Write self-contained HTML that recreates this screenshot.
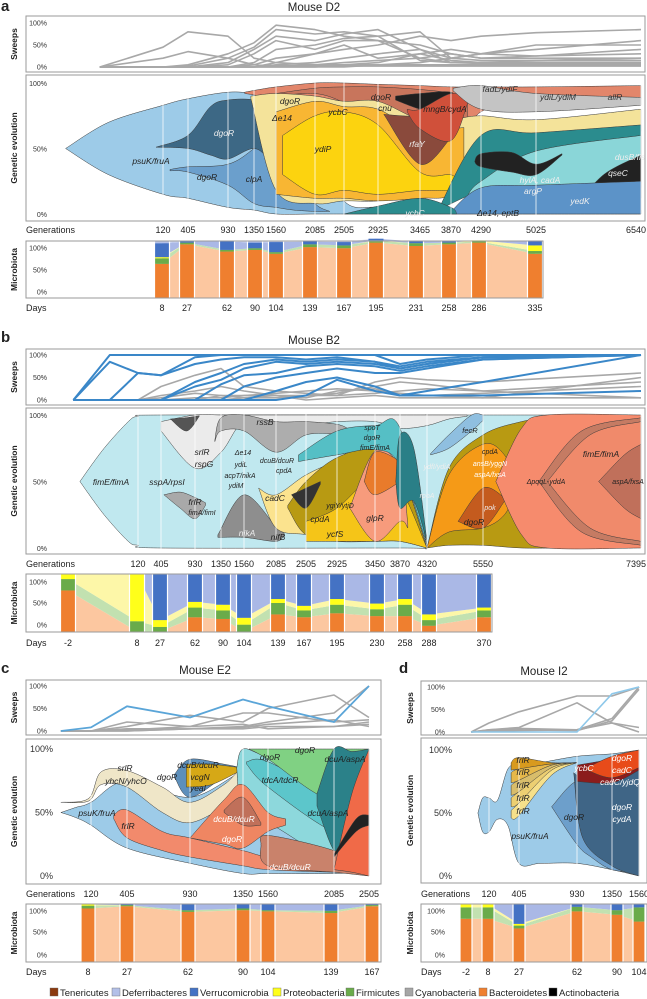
<!DOCTYPE html>
<html><head><meta charset="utf-8">
<style>
html,body{margin:0;padding:0;background:#fff;}
svg{display:block;font-family:"Liberation Sans",Arial,sans-serif;}
</style></head>
<body>
<svg id="fig" width="647" height="999" viewBox="0 0 647 999" xmlns="http://www.w3.org/2000/svg"></svg>
<script>
// ---------------- DATA ----------------
const aGenTicks=[120,405,930,1350,1560,2085,2505,2925,3465,3870,4290,5025,6540];
const aDays=[8,27,62,90,104,139,167,195,231,258,286,335];
const aBact=[60,95,82,85,78,90,88,98,92,95,98,78];
const aFirm=[10,3,3,3,3,5,5,3,5,3,2,5];
const aProt=[2,0,0,0,0,0,0,1,0,0,2,10];
const aVerr=[25,2,15,10,18,5,6,3,3,2,0,7];
const aSweepT=[-600,120,405,930,1350,1560,2085,2505,2925,3465,3870,4290,5025,6540];
const aSw1=[0,45,80,70,20,10,5,5,5,5,5,5,5,5];
const aSw2=[0,20,35,20,5,3,2,2,2,2,2,2,2,2];
const aSw3=[0,0,5,30,55,95,85,70,60,20,10,10,10,10];
const aSw4=[0,0,2,20,45,85,75,80,70,15,10,8,8,8];
const aSw5=[0,0,0,10,40,70,60,75,85,40,10,10,10,10];
const aSw6=[0,0,0,5,30,60,40,60,60,50,30,20,20,20];
const aSw7=[0,0,0,0,10,40,50,65,70,80,20,15,15,15];
const aSw8=[0,0,0,0,5,20,30,40,50,70,60,70,78,85];
const aSw9=[0,0,0,0,0,10,30,50,20,30,40,30,50,50];
const aSw10=[0,0,0,0,0,5,10,20,30,40,20,30,40,60];
const aSw11=[0,0,0,0,0,2,5,10,15,20,30,20,25,30];
const aSw12=[0,0,0,0,0,0,0,5,10,30,15,10,15,20];
const aSw13=[0,0,0,0,0,0,0,0,5,10,20,30,25,40];
const aPsuK_t=[-990,-500,120,405,930,1350,1560,2085,2505,2925,3465,3870,4290,5025,6540];
const aPsuK_lo=[50,30,15,12,5,3,0,0,0,0,0,0,0,0,0];
const aPsuK_hi=[50,70,83,88,93,92,90,55,10,5,3,3,3,3,3];
const aClpA_t=[200,405,930,1350,1560,1800,2085,2300];
const aClpA_lo=[33,32,22,8,5,3,2,2];
const aClpA_hi=[34,36,38,50,65,30,8,2];
const aDgoR_t=[40,405,700,930,1350,1500,1600,1700];
const aDgoR_lo=[51,50,45,42,50,40,25,20];
const aDgoR_hi=[51,60,82,87,87,80,45,22];
const aTop_t=[1200,1400,1560,2085,2505,2925,3465,3870,4290,5025,6540];
const aTop_lo=[92,90,85,88,86,84,60,45,78,84,88];
const aTop_hi=[93,95,97,100,100,99,98,97,97,97,98];
const aBrown_t=[1560,2085,2505,2925,3465,3870,4100];
const aBrown_lo=[90,92,85,70,30,40,70];
const aBrown_hi=[92,96,97,97,95,92,85];
const aPale_t=[1300,1560,2085,2505,2925,3465,3870,4290,5025,6540];
const aPale_lo=[88,18,8,10,10,15,20,45,55,63];
const aPale_hi=[90,92,90,86,86,72,72,75,72,80];
const aOrY_t=[1560,2085,2505,2925,3465,3870,4050];
const aOrY_lo=[15,12,12,10,12,15,40];
const aOrY_hi=[78,86,82,80,62,65,66];
const aYel_t=[1650,2085,2505,2925,3465,3870,3950];
const aYel_lo=[30,15,18,15,18,18,22];
const aYel_hi=[60,75,78,68,32,30,24];
const aRfa_t=[3000,3465,3870,3950];
const aRfa_lo=[76,38,58,62];
const aRfa_hi=[76,75,82,64];
const aBlk_t=[3150,3465,3870,4000];
const aBlk_lo=[87,80,74,82];
const aBlk_hi=[90,92,93,85];
const aRed_t=[3300,3465,3870,4100];
const aRed_lo=[78,65,56,84];
const aRed_hi=[80,80,92,87];
const aGray_t=[3900,4290,5025,6540];
const aGray_lo=[94,80,78,83];
const aGray_hi=[96,98,92,89];
const aTeal_t=[3700,4290,5025,6540];
const aTeal_lo=[3,18,30,45];
const aTeal_hi=[3,60,62,68];
const aCyan_t=[4100,4290,5025,6540];
const aCyan_lo=[12,12,18,20];
const aCyan_hi=[14,25,48,60];
const aBlk2_t=[4200,4290,4700,5025,5400];
const aBlk2_lo=[40,36,32,30,45];
const aBlk2_hi=[40,46,47,38,46];
const aBlk3_t=[5600,6000,6540];
const aBlk3_lo=[5,8,12];
const aBlk3_hi=[6,30,45];
const aBlue_t=[3870,4290,5025,6540];
const aBlue_lo=[0,0,0,0];
const aBlue_hi=[2,20,22,25];
const aYcbC_t=[2505,2925,3465,3870,3950];
const aYcbC_lo=[0,0,0,0,0];
const aYcbC_hi=[0,6,12,5,0];

const bGenTicks=[120,405,930,1350,1560,2085,2505,2925,3450,3870,4320,5550,7395];
const bDays=[-2,8,27,62,90,104,139,167,195,230,258,288,370];
const bBact=[72,0,0,25,22,0,30,25,32,27,27,10,25];
const bFirm=[20,18,8,17,15,12,20,12,15,12,20,10,12];
const bProt=[8,82,12,10,10,12,7,8,10,10,10,10,5];
const bVerr=[0,0,80,48,53,76,43,55,43,51,43,70,58];
const bSweepT=[-680,-230,120,405,930,1350,1560,2085,2505,2925,3450,3870,4320,5550,7395];
const bB1=[0,100,100,100,100,100,100,100,100,100,100,100,100,100,100];
const bB2=[0,85,60,55,95,100,100,100,100,100,100,80,90,100,100];
const bB3=[0,0,60,55,80,90,95,95,90,95,85,75,85,95,100];
const bB4=[0,0,0,0,40,60,80,90,85,90,85,70,80,95,100];
const bB5=[0,0,0,0,30,45,70,85,80,85,80,70,80,95,100];
const bB6=[0,0,0,0,0,35,55,60,75,80,75,65,75,90,100];
const bB7=[0,0,0,0,0,0,30,50,60,70,60,60,70,90,100];
const bB8=[0,0,0,0,0,0,0,20,40,50,30,10,20,40,100];
const bB9=[0,0,0,0,0,0,0,0,10,45,20,10,10,10,20];
const bG1=[0,0,0,30,55,70,30,20,15,10,40,50,45,40,60];
const bG2=[0,0,0,10,20,30,20,10,10,15,30,40,35,20,40];
const bG3=[0,0,0,0,0,10,10,15,20,25,20,15,10,5,5];
const bG4=[0,0,0,5,15,10,5,10,5,20,25,10,10,15,30];
const bG5=[0,0,0,0,0,0,5,5,10,10,15,20,25,20,5];
const bG6=[0,0,0,0,5,5,10,10,0,5,10,5,5,5,50];
const bCyan_t=[-600,-300,0,120,405,3870,4320,4800,5550,6300,6600];
const bCyan_lo=[50,25,5,2,0,0,0,10,50,90,100];
const bCyan_hi=[50,75,95,99,100,100,100,100,100,100,100];
const bLG_t=[405,930,1350,1560,2085,2505,2925,3450,3870,4320,4800,5200];
const bLG_lo=[88,60,72,95,90,92,95,95,90,92,97,99];
const bLG_hi=[95,100,100,100,100,100,100,100,100,100,100,100];
const bFrl_t=[450,700,930,1100];
const bFrl_lo=[40,30,22,32];
const bFrl_hi=[40,42,38,34];
const bRss_t=[1250,1350,1560,2085,2505,2925,3100];
const bRss_lo=[80,88,88,72,85,86,88];
const bRss_hi=[81,98,100,95,95,93,89];
const bNik_t=[1300,1560,2085,2200];
const bNik_lo=[8,8,5,10];
const bNik_hi=[10,40,16,11];
const bSrl_t=[550,800,1000];
const bSrl_lo=[97,88,99];
const bSrl_hi=[97,98,99.5];
const bPale_t=[1800,2085,2505,2925,3450,3870,4320];
const bPale_lo=[45,15,10,5,5,5,0];
const bPale_hi=[45,40,55,65,72,60,0];
const bOl_t=[2250,2505,2925,3450,3870,4320];
const bOl_lo=[30,10,10,8,8,0];
const bOl_hi=[32,50,68,75,60,0];
const bYel_t=[2505,2925,3450,3870,4320];
const bYel_lo=[5,5,5,5,0];
const bYel_hi=[20,30,55,45,0];
const bSal_t=[3100,3450,3870,4000];
const bSal_lo=[30,5,20,15];
const bSal_hi=[30,73,60,18];
const bOr_t=[3300,3450,3870,3950];
const bOr_lo=[50,40,50,55];
const bOr_hi=[50,72,65,57];
const bTeal_t=[2400,2925,3450,3870,4320];
const bTeal_lo=[65,70,74,62,2];
const bTeal_hi=[70,88,92,90,2];
const bDT_t=[3800,3870,4100,4320];
const bDT_lo=[50,30,35,5];
const bDT_hi=[50,85,75,5];
const bFec_t=[4400,4800,5300,5550];
const bFec_lo=[70,75,88,96];
const bFec_hi=[71,85,100,100];
const bOl2_t=[4320,4800,5550,6000,6500];
const bOl2_lo=[0,2,2,0,0];
const bOl2_hi=[0,60,85,95,100];
const bOr2_t=[4320,4800,5550,5800,5950];
const bOr2_lo=[0,12,15,25,45];
const bOr2_hi=[0,55,78,70,46];
const bDgo_t=[5000,5550,5800];
const bDgo_lo=[20,15,35];
const bDgo_hi=[20,45,38];
const bSal2_t=[5700,6000,6300,7395];
const bSal2_lo=[50,10,0,0];
const bSal2_hi=[50,90,100,100];
const bBr_t=[6200,6700,7395];
const bBr_lo=[50,12,2];
const bBr_hi=[50,88,98];
const bSal3_t=[6300,6800,7395];
const bSal3_lo=[50,15,5];
const bSal3_hi=[50,85,95];
const bAsp_t=[6900,7200,7395];
const bAsp_lo=[50,30,22];
const bAsp_hi=[50,70,78];
const bCad_t=[2300,2505,2700];
const bCad_lo=[40,30,48];
const bCad_hi=[40,45,50];

const cGenTicks=[120,405,930,1350,1560,2085,2505];
const cDays=[8,27,62,90,104,139,167];
const cBact=[93,97,87,90,88,85,97];
const cFirm=[5,2,3,3,2,4,2];
const cProt=[2,0,0,0,0,0,0];
const cVerr=[0,1,10,7,10,11,1];
const cSweepT=[-118,120,405,930,1350,1560,2085,2505];
const cSwB=[0,8,55,30,70,55,20,100];
const cSw1=[0,0,10,35,20,50,80,30];
const cSw2=[0,0,20,10,40,40,20,25];
const cSw3=[0,0,0,5,10,20,40,100];
const cSw4=[0,0,5,5,5,10,10,15];
const cSw5=[0,0,2,10,15,5,10,20];
const cSw6=[0,0,0,5,8,15,25,10];
const cBlue_t=[-118,0,120,405,930,1350,1560,2085,2505];
const cBlue_lo=[50,46,40,22,10,2,2,2,3];
const cBlue_hi=[50,54,58,75,62,82,78,55,5];
const cCr_t=[-118,100,200,405,700,930,1200,1350,1500];
const cCr_lo=[58,59,72,70,50,42,55,70,78];
const cCr_hi=[58,61,82,83,70,58,72,85,80];
const cSt_t=[800,930,1200,1350];
const cSt_lo=[78,62,78,84];
const cSt_hi=[80,92,88,85];
const cGo_t=[900,1100,1350];
const cGo_lo=[70,72,84];
const cGo_hi=[88,88,85];
const cLT_t=[1300,1350,1560,2085,2400,2505];
const cLT_lo=[85,45,42,10,5,5];
const cLT_hi=[85,100,94,82,95,100];
const cMT_t=[1380,1560,2085,2300];
const cMT_lo=[88,70,35,50];
const cMT_hi=[90,90,62,60];
const cGr_t=[1400,1560,2085,2505];
const cGr_lo=[100,92,60,95];
const cGr_hi=[100,100,100,100];
const cDT_t=[1950,2085,2300,2505];
const cDT_lo=[55,20,15,5];
const cDT_hi=[65,100,98,100];
const cSa_t=[300,405,700,930,1350,1560,2085,2505];
const cSa_lo=[45,30,20,15,8,5,3,3];
const cSa_hi=[48,52,35,30,20,15,8,6];
const cSa2_t=[930,1200,1350,1560,1700];
const cSa2_lo=[30,25,22,35,40];
const cSa2_hi=[30,60,72,50,45];
const cBr_t=[1200,1350,1500];
const cBr_lo=[50,40,40];
const cBr_hi=[52,62,42];
const cLB_t=[1500,1560,2085,2505];
const cLB_lo=[25,8,3,0];
const cLB_hi=[25,32,20,5];
const cRO_t=[2085,2300,2505];
const cRO_lo=[5,3,0];
const cRO_hi=[5,65,100];
const cBk_t=[2085,2350,2505];
const cBk_lo=[15,35,40];
const cBk_hi=[17,45,48];

const dGenTicks=[120,405,930,1350,1560];
const dDays=[-2,8,27,62,90,104];
const dBact=[75,75,58,88,82,70];
const dFirm=[20,20,5,8,8,25];
const dProt=[5,5,3,0,0,0];
const dVerr=[0,0,34,4,10,5];
const dSweepT=[-50,120,405,930,1350,1560];
const dSwB=[0,0,0,0,85,100];
const dSw1=[0,20,45,80,80,100];
const dSw2=[0,5,10,65,20,0];
const dSw3=[0,5,8,5,30,100];
const dSw4=[0,3,5,3,25,95];
const dSw5=[0,2,3,5,20,10];
const dBl_t=[15,60,120,200,300,405,600,930,1350,1560];
const dBl_lo=[50,35,35,45,40,10,10,10,5,0];
const dBl_hi=[50,62,62,60,85,88,90,95,97,100];
const dY_t=[330,405,700,930];
const dY1_lo=[46,48,80,90], dY1_hi=[52,58,85,90];
const dY2_lo=[55,58,84,90], dY2_hi=[62,67,87,90];
const dY3_lo=[64,67,86,90], dY3_hi=[72,76,88,90];
const dY4_lo=[74,76,88,90], dY4_hi=[82,85,89,90];
const dY5_lo=[84,85,89,90], dY5_hi=[90,94,90,90];
const dMid_t=[700,930,1100,1350,1560];
const dMid_lo=[55,25,15,5,3];
const dMid_hi=[55,75,55,15,5];
const dNav_t=[900,1000,1350,1560];
const dNav_lo=[82,30,8,0];
const dNav_hi=[82,78,76,86];
const dDR_t=[930,1350,1560];
const dDR_lo=[75,74,84];
const dDR_hi=[88,93,100];
const dOR_t=[1050,1350,1560];
const dOR_lo=[84,78,86];
const dOR_hi=[86,95,100];

// ---------------- RENDER ----------------
const NS='http://www.w3.org/2000/svg';
const svg=document.getElementById('fig');
function mk(tag,attrs,parent){const e=document.createElementNS(NS,tag);for(const k in attrs)e.setAttribute(k,attrs[k]);(parent||svg).appendChild(e);return e;}
function txt(s,x,y,size,opts,parent){const o=opts||{};const e=mk('text',{x:x,y:y,'font-size':size,fill:o.fill||'#222','text-anchor':o.anchor||'start'},parent);if(o.italic)e.setAttribute('font-style','italic');if(o.bold)e.setAttribute('font-weight','bold');if(o.rot)e.setAttribute('transform','rotate(-90 '+x+' '+y+')');e.textContent=s;return e;}
function piece(ts,px){return g=>{let i=0;if(g<=ts[0])i=0;else if(g>=ts[ts.length-1])i=ts.length-2;else{while(g>ts[i+1])i++;}const s=(px[i+1]-px[i])/(ts[i+1]-ts[i]);return px[i]+(g-ts[i])*s;};}
function lin(v0,p0,v1,p1){return v=>p0+(v-v0)*(p1-p0)/(v1-v0);}
function smooth(pts,start){let d=(start?'M':'L')+pts[0][0].toFixed(1)+','+pts[0][1].toFixed(1);for(let i=0;i<pts.length-1;i++){const p0=pts[Math.max(0,i-1)],p1=pts[i],p2=pts[i+1],p3=pts[Math.min(pts.length-1,i+2)];const c1=[p1[0]+(p2[0]-p0[0])/6,p1[1]+(p2[1]-p0[1])/6];const c2=[p2[0]-(p3[0]-p1[0])/6,p2[1]-(p3[1]-p1[1])/6];d+='C'+c1[0].toFixed(1)+','+c1[1].toFixed(1)+' '+c2[0].toFixed(1)+','+c2[1].toFixed(1)+' '+p2[0].toFixed(1)+','+p2[1].toFixed(1);}return d;}
function band(g,xs,ys,t,lo,hi,color,name){const top=t.map((v,i)=>[xs(v),ys(hi[i])]);const bot=t.map((v,i)=>[xs(v),ys(lo[i])]).reverse();const p=mk('path',{d:smooth(top,true)+smooth(bot,false)+'Z',fill:color,stroke:'#3a3a3a','stroke-width':0.5},g);


return p;}

function panel(cfg){
  const G=mk('g',{});
  
  
  const L=txt(cfg.id,cfg.letterX,cfg.letterY,15,{bold:true},G);
  
  
  const T=txt(cfg.title,cfg.titleX,cfg.titleY,11.5,{anchor:'middle'},G);
  
  
  const xs=piece(cfg.ticks,cfg.tickPx);
  const cid='clip'+cfg.id;
  const cp=mk('clipPath',{id:cid},G);mk('rect',{x:cfg.x0,y:cfg.gTop,width:cfg.x1-cfg.x0,height:cfg.gBot-cfg.gTop},cp);
  const cid2='clips'+cfg.id;
  const cp2=mk('clipPath',{id:cid2},G);mk('rect',{x:cfg.x0,y:cfg.sTop,width:cfg.x1-cfg.x0,height:cfg.sBot-cfg.sTop},cp2);
  const sBox=mk('rect',{x:cfg.x0,y:cfg.sTop,width:cfg.x1-cfg.x0,height:cfg.sBot-cfg.sTop,fill:'#fff',stroke:'#9a9a9a','stroke-width':1},G);
  
  
  const sy=lin(0,cfg.s0,100,cfg.s100);
  const sg=mk('g',{'clip-path':'url(#'+cid2+')'},G);
  cfg.sweeps.forEach((s,k)=>{const pts=s.v.map((v,i)=>xs(cfg.sweepT[i]).toFixed(1)+','+sy(v).toFixed(1)).join(' ');
    const pl=mk('polyline',{points:pts,fill:'none',stroke:s.c,'stroke-width':s.w,'stroke-linejoin':'round'},sg);
    
    });
  [['100%',100],['50%',50],['0%',0]].forEach(([s,v])=>{const e=txt(s,cfg.pctX,sy(v)+2.5,cfg.pctSize,{anchor:'end',fill:'#333'},G);
    
    });
  const st=txt('Sweeps',cfg.titleAxX,(cfg.sTop+cfg.sBot)/2,8.5,{bold:true,anchor:'middle',rot:true},G);
  
  
  const gBox=mk('rect',{x:cfg.x0,y:cfg.gTop,width:cfg.x1-cfg.x0,height:cfg.gBot-cfg.gTop,fill:'#fff',stroke:'#9a9a9a','stroke-width':1},G);
  
  
  const gy=lin(0,cfg.g0,100,cfg.g100);
  const gg=mk('g',{'clip-path':'url(#'+cid+')'},G);
  cfg.bands.forEach(b=>band(gg,xs,gy,b[0],b[1],b[2],b[3],b[4]));
  cfg.ticks.forEach(t=>{const l=mk('line',{x1:xs(t),x2:xs(t),y1:cfg.gTop,y2:cfg.gBot,stroke:'#fff','stroke-width':1,'stroke-opacity':0.75},gg);
    
    });
  cfg.labels.forEach(l=>{const e=txt(l[0],l[1],l[2],l[4]||8.5,{italic:true,anchor:'middle',fill:l[3]},gg);
    
    });
  mk('rect',{x:cfg.x0,y:cfg.gTop,width:cfg.x1-cfg.x0,height:cfg.gBot-cfg.gTop,fill:'none',stroke:'#9a9a9a','stroke-width':1},G);
  [['100%',100],['50%',50],['0%',0]].forEach(([s,v])=>{const e=txt(s,cfg.gpctX,gy(v)+3,cfg.gpctSize,{anchor:'end',fill:'#333'},G);
    
    });
  const gt=txt('Genetic evolution',cfg.titleAxX,(cfg.gTop+cfg.gBot)/2,8.5,{bold:true,anchor:'middle',rot:true},G);
  
  
  const gl=txt('Generations',cfg.x0,cfg.genY,9,{},G);
  
  
  cfg.ticks.forEach((t,i)=>{const last=i===cfg.ticks.length-1&&cfg.lastEnd;const e=txt(String(t),last?cfg.x1+1:xs(t),cfg.genY,9,{anchor:last?'end':'middle'},G);
    
    });
  const mBox=mk('rect',{x:cfg.x0,y:cfg.mTop,width:cfg.mx1-cfg.x0,height:cfg.mBot-cfg.mTop,fill:'#fff',stroke:'#9a9a9a','stroke-width':1},G);
  
  
  const dx=piece(cfg.days,cfg.dayPx);
  const my=lin(0,cfg.mBot-0.5,100,cfg.mTop+0.5);
  const series=[cfg.bact,cfg.firm,cfg.prot,cfg.verr,cfg.bact.map((v,i)=>Math.max(0,100-v-cfg.firm[i]-cfg.prot[i]-cfg.verr[i]))];
  const cols=['#ef7f2f','#6aab4a','#ffff1a','#4472c4','#b3c0e8'];
  const pale=['#fcc7a0','#c2e1b0','#fdf7a8','#aab8e6','#d0d8f2'];
  const names=['bacteroidetes','firmicutes','proteobacteria','verrucomicrobia','deferribacteres'];
  const cum=cfg.days.map(()=>0);
  series.forEach((s,k)=>{const lo=cum.slice();s.forEach((v,i)=>cum[i]+=v);const hi=cum.slice();
    const pts=cfg.days.map((d,i)=>dx(d).toFixed(1)+','+my(hi[i]).toFixed(1)).concat(cfg.days.map((d,i)=>dx(d).toFixed(1)+','+my(lo[i]).toFixed(1)).reverse()).join(' ');
    const a=mk('polygon',{points:pts,fill:pale[k]},G);
    
    });
  const cum2=cfg.days.map(()=>0);
  series.forEach((s,k)=>{s.forEach((v,i)=>{const y0=my(cum2[i]);cum2[i]+=v;const y1=my(cum2[i]);
    const r=mk('rect',{x:dx(cfg.days[i])-cfg.barW/2,y:y1,width:cfg.barW,height:Math.max(0,y0-y1),fill:cols[k]},G);
    
    });});
  cfg.days.forEach(d=>{[-1,1].forEach(sg=>{const l=mk('line',{x1:dx(d)+sg*cfg.barW/2,x2:dx(d)+sg*cfg.barW/2,y1:cfg.mTop,y2:cfg.mBot,stroke:'#fff','stroke-width':1.2},G);
    
    });});
  mk('rect',{x:cfg.x0,y:cfg.mTop,width:cfg.mx1-cfg.x0,height:cfg.mBot-cfg.mTop,fill:'none',stroke:'#9a9a9a','stroke-width':1},G);
  [['100%',100,cfg.m100],['50%',50,cfg.m50],['0%',0,cfg.m0]].forEach(([s,v,y])=>{const e=txt(s,cfg.pctX,y+2.5,cfg.pctSize,{anchor:'end',fill:'#333'},G);
    
    });
  const mt=txt('Microbiota',cfg.titleAxX,(cfg.mTop+cfg.mBot)/2,8.5,{bold:true,anchor:'middle',rot:true},G);
  
  
  const dl=txt('Days',cfg.x0,cfg.dayY,9,{},G);
  
  
  cfg.days.forEach(d=>{const e=txt(String(d),dx(d),cfg.dayY,9,{anchor:'middle'},G);
    
    });
}

const GR='#a8a8a8',BL='#3a87c8';
panel({id:'a',title:'Mouse D2',letterX:1,letterY:11,titleX:314,titleY:11,x0:26,x1:645,mx1:543,
 ticks:aGenTicks,tickPx:[163,188,228,254,276,315,344,378,420,451,481,536,641],lastEnd:true,
 sTop:16,sBot:72,s100:23,s0:67,gTop:75,gBot:221,g100:83,g0:214,genY:233,
 mTop:241,mBot:298,m100:248,m50:270,m0:292,dayY:311,pctX:47,pctSize:7,gpctX:47,gpctSize:7,titleAxX:17,
 sweepT:aSweepT,sweeps:[aSw1,aSw2,aSw3,aSw4,aSw5,aSw6,aSw7,aSw8,aSw9,aSw10,aSw11,aSw12,aSw13].map(v=>({v:v,c:GR,w:1.6})),
 days:aDays,dayPx:[162,187,227,255,276,310,344,376,416,449,479,535],barW:15,bact:aBact,firm:aFirm,prot:aProt,verr:aVerr,
 bands:[[aPsuK_t,aPsuK_lo,aPsuK_hi,'#9dcbe8','clone-psuK-fruA'],[aClpA_t,aClpA_lo,aClpA_hi,'#6b9fcc','clone-clpA'],[aDgoR_t,aDgoR_lo,aDgoR_hi,'#3d6885','clone-dgoR'],
  [aTop_t,aTop_lo,aTop_hi,'#e2866b','clone-top-salmon'],[aBrown_t,aBrown_lo,aBrown_hi,'#c8755c','clone-dgoR-cnu'],[aPale_t,aPale_lo,aPale_hi,'#f4e39a','clone-pale-dgoR'],
  [aOrY_t,aOrY_lo,aOrY_hi,'#f8b633','clone-ycbC'],[aYel_t,aYel_lo,aYel_hi,'#fcd30f','clone-ydiP'],[aRfa_t,aRfa_lo,aRfa_hi,'#8a4a3c','clone-rfaY'],
  [aBlk_t,aBlk_lo,aBlk_hi,'#1f1f1f','clone-black'],[aRed_t,aRed_lo,aRed_hi,'#d0503a','clone-mngB-cydA'],[aGray_t,aGray_lo,aGray_hi,'#c4c4c4','clone-fadL-ydiF'],
  [aTeal_t,aTeal_lo,aTeal_hi,'#2b8c8e','clone-teal'],[aCyan_t,aCyan_lo,aCyan_hi,'#8ad6d8','clone-qseC'],[aBlk2_t,aBlk2_lo,aBlk2_hi,'#222','clone-black-2'],
  [aBlk3_t,aBlk3_lo,aBlk3_hi,'#222','clone-black-3'],[aBlue_t,aBlue_lo,aBlue_hi,'#5c93c8','clone-e14-eptB'],[aYcbC_t,aYcbC_lo,aYcbC_hi,'#2b8c8e','clone-ycbC-bottom']],
 labels:[['psuK/fruA',151,164,'#222'],['dgoR',224,136,'#eee'],['dgoR',207,180,'#222'],['clpA',254,182,'#222'],['dgoR',290,104,'#222'],['Δe14',282,121,'#222'],['ycbC',338,115,'#222'],['ydiP',323,152,'#222'],
  ['dgoR',381,100,'#222'],['cnu',385,111,'#222'],['mngB/cydA',445,112,'#222'],['rfaY',417,147,'#eee'],['fadL/ydiF',500,92,'#333'],['ydiL/ydiM',558,100,'#333'],['allR',615,100,'#333'],
  ['ycbC',415,216,'#eee'],['Δe14, eptB',498,216,'#222'],['hylA, cadA',540,183,'#eee'],['argP',533,194,'#eee'],['yedK',580,204,'#eee'],['qseC',618,176,'#eee'],['dusB/fis',630,160,'#eee']]});

panel({id:'b',title:'Mouse B2',letterX:1,letterY:342,titleX:314,titleY:344,x0:26,x1:645,mx1:492,
 ticks:bGenTicks,tickPx:[138,161,195,221,244,276,306,337,375,400,427,483,641],lastEnd:true,
 sTop:349,sBot:405,s100:355,s0:400,gTop:408,gBot:554,g100:415,g0:548,genY:567,
 mTop:574,mBot:632,m100:582,m50:603,m0:625,dayY:646,pctX:47,pctSize:7,gpctX:47,gpctSize:7,titleAxX:17,
 sweepT:bSweepT,sweeps:[bG1,bG2,bG3,bG4,bG5,bG6].map(v=>({v:v,c:GR,w:1.6})).concat([bB1,bB2,bB3,bB4,bB5,bB6,bB7,bB8,bB9].map(v=>({v:v,c:BL,w:2}))),
 days:bDays,dayPx:[68,137,160,195,223,244,278,304,337,377,405,429,484],barW:15,bact:bBact,firm:bFirm,prot:bProt,verr:bVerr,
 bands:[[bCyan_t,bCyan_lo,bCyan_hi,'#c0e8ef','clone-fimE-fimA'],[bLG_t,bLG_lo,bLG_hi,'#ebebeb','clone-light-gray'],[bFrl_t,bFrl_lo,bFrl_hi,'#a9a9a9','clone-frlR'],
  [bRss_t,bRss_lo,bRss_hi,'#adadad','clone-rssB'],[bNik_t,bNik_lo,bNik_hi,'#8e8e8e','clone-nikA'],[bSrl_t,bSrl_lo,bSrl_hi,'#555','clone-srlR'],
  [bPale_t,bPale_lo,bPale_hi,'#fbe38e','clone-cadC'],[bOl_t,bOl_lo,bOl_hi,'#b89a12','clone-cpdA'],[bYel_t,bYel_lo,bYel_hi,'#f5c518','clone-ycfS'],
  [bSal_t,bSal_lo,bSal_hi,'#f79b7c','clone-glpR'],[bOr_t,bOr_lo,bOr_hi,'#e97b2b','clone-serS'],[bTeal_t,bTeal_lo,bTeal_hi,'#55bfc5','clone-spoT'],
  [bDT_t,bDT_lo,bDT_hi,'#2a7f87','clone-rpoA'],[bFec_t,bFec_lo,bFec_hi,'#8fbfe0','clone-fecR'],[bOl2_t,bOl2_lo,bOl2_hi,'#b89a12','clone-olive-right'],
  [bOr2_t,bOr2_lo,bOr2_hi,'#f59a17','clone-cpdA-right'],[bDgo_t,bDgo_lo,bDgo_hi,'#c45b1e','clone-dgoR-right'],[bSal2_t,bSal2_lo,bSal2_hi,'#f68b6d','clone-pqqL'],
  [bBr_t,bBr_lo,bBr_hi,'#c57b63','clone-brown-right'],[bSal3_t,bSal3_lo,bSal3_hi,'#f08a6b','clone-fimE-right'],[bAsp_t,bAsp_lo,bAsp_hi,'#c0705b','clone-aspA-fxsA'],
  [bCad_t,bCad_lo,bCad_hi,'#333','clone-black-cadC']],
 labels:[['fimE/fimA',111,485,'#222'],['sspA/rpsI',167,485,'#222'],['srlR',202,455,'#222'],['rspG',204,467,'#222'],['frlR',195,505,'#222'],['fimA/fimI',202,515,'#222',7],
  ['rssB',265,425,'#222'],['Δe14',243,455,'#222',7],['ydiL',241,467,'#222',7],['acpT/nikA',240,478,'#222',7],['ydiM',236,488,'#222',7],['dcuB/dcuR',277,463,'#222',7],['cpdA',284,473,'#222',7],
  ['cadC',275,501,'#222'],['cpdA',320,522,'#222'],['ycfS',335,537,'#222'],['ygiY/ytjD',340,508,'#222',7],['glpR',375,521,'#222'],['spoT',372,430,'#222',7],['dgoR',372,440,'#222',7],['fimE/fimA',375,450,'#222',7],
  ['nikA',247,536,'#eee'],['nifB',278,540,'#222'],['fecR',470,433,'#222',7.5],['cpdA',490,454,'#222',7],['ansB/yggN',490,466,'#fff',7],['aspA/fxsA',490,477,'#fff',7],['dgoR',474,525,'#222'],
  ['pok',490,510,'#eee',7],['ΔpqqL-yddA',546,484,'#222',7],['fimE/fimA',601,457,'#222'],['aspA/fxsA',628,484,'#222',7],['rpoA',427,498,'#eee',7],['ydfI/ydiA',437,469,'#eee',7]]});

panel({id:'c',title:'Mouse E2',letterX:1,letterY:673,titleX:205,titleY:674,x0:26,x1:381,mx1:381,
 ticks:cGenTicks,tickPx:[91,127,190,243,268,334,369],lastEnd:false,
 sTop:680,sBot:735,s100:686,s0:731,gTop:739,gBot:884,g100:749,g0:876,genY:897,
 mTop:904,mBot:962,m100:911,m50:932,m0:955,dayY:975,pctX:47,pctSize:7,gpctX:53,gpctSize:9,titleAxX:17,
 sweepT:cSweepT,sweeps:[cSw1,cSw2,cSw3,cSw4,cSw5,cSw6].map(v=>({v:v,c:GR,w:1.6})).concat([{v:cSwB,c:'#5aa5d8',w:1.8}]),
 days:cDays,dayPx:[88,127,188,243,268,331,372],barW:14,bact:cBact,firm:cFirm,prot:cProt,verr:cVerr,
 bands:[[cBlue_t,cBlue_lo,cBlue_hi,'#9dcbe8','clone-psuK-fruA'],[cCr_t,cCr_lo,cCr_hi,'#efe6c8','clone-srlR'],[cSt_t,cSt_lo,cSt_hi,'#5d8fbb','clone-dgoR-steel'],
  [cGo_t,cGo_lo,cGo_hi,'#d6a816','clone-vcgN'],[cLT_t,cLT_lo,cLT_hi,'#8dd8dc','clone-tdcA'],[cMT_t,cMT_lo,cMT_hi,'#5cc6cb','clone-dgoR-teal'],
  [cGr_t,cGr_lo,cGr_hi,'#80d183','clone-dgoR-green'],[cDT_t,cDT_lo,cDT_hi,'#2b8189','clone-dcuA-aspA'],[cSa_t,cSa_lo,cSa_hi,'#f28a6c','clone-frlR'],
  [cSa2_t,cSa2_lo,cSa2_hi,'#ef8662','clone-dcuB-dcuR'],[cBr_t,cBr_lo,cBr_hi,'#c0705a','clone-dcuB-brown'],[cLB_t,cLB_lo,cLB_hi,'#c9826b','clone-dcuB-lower'],
  [cRO_t,cRO_lo,cRO_hi,'#f06a48','clone-red-right'],[cBk_t,cBk_lo,cBk_hi,'#222','clone-black']],
 labels:[['srlR',125,771,'#222'],['yhcN/yhcO',126,784,'#222'],['psuK/fruA',97,816,'#222'],['frlR',128,829,'#222'],['dgoR',167,780,'#222'],['dcuB/dcuR',198,768,'#222'],['vcgN',200,780,'#222'],['yeaI',198,791,'#222'],
  ['dgoR',270,760,'#222'],['dgoR',305,753,'#222'],['dcuA/aspA',345,762,'#222'],['tdcA/tdcR',280,783,'#222'],['dcuB/dcuR',234,822,'#fff'],['dgoR',232,842,'#fff'],['dcuA/aspA',328,816,'#222'],['dcuB/dcuR',290,870,'#fff']]});

panel({id:'d',title:'Mouse I2',letterX:399,letterY:673,titleX:544,titleY:675,x0:421,x1:647,mx1:647,
 ticks:dGenTicks,tickPx:[489,519,577,612,639],lastEnd:false,
 sTop:681,sBot:735,s100:687,s0:732,gTop:738,gBot:883,g100:750,g0:876,genY:897,
 mTop:904,mBot:962,m100:911,m50:932,m0:955,dayY:975,pctX:445,pctSize:7,gpctX:452,gpctSize:9,titleAxX:413,
 sweepT:dSweepT,sweeps:[dSw1,dSw2,dSw3,dSw4,dSw5].map(v=>({v:v,c:GR,w:1.6})).concat([{v:dSwB,c:'#8ec8ea',w:1.6}]),
 days:dDays,dayPx:[466,488,519,577,617,639],barW:12,bact:dBact,firm:dFirm,prot:dProt,verr:dVerr,
 bands:[[dBl_t,dBl_lo,dBl_hi,'#9dcbe8','clone-psuK-fruA'],[dY_t,dY1_lo,dY1_hi,'#f6e08a','clone-frlR-1'],[dY_t,dY2_lo,dY2_hi,'#eccf72','clone-frlR-2'],
  [dY_t,dY3_lo,dY3_hi,'#d8bd6b','clone-frlR-3'],[dY_t,dY4_lo,dY4_hi,'#e6b84a','clone-frlR-4'],[dY_t,dY5_lo,dY5_hi,'#d89a1e','clone-frlR-5'],
  [dMid_t,dMid_lo,dMid_hi,'#6d9fcb','clone-dgoR'],[dNav_t,dNav_lo,dNav_hi,'#3f6586','clone-dgoR-cydA'],[dDR_t,dDR_lo,dDR_hi,'#8b1c1c','clone-ycbC'],
  [dOR_t,dOR_lo,dOR_hi,'#e84b1a','clone-cadC']],
 labels:[['frlR',523,763,'#222'],['frlR',523,775,'#222'],['frlR',523,788,'#222'],['frlR',523,801,'#222'],['frlR',523,814,'#222'],['ycbC',584,771,'#fff'],
  ['dgoR',622,761,'#fff'],['cadC',622,773,'#fff'],['cadC/yjdQ',620,785,'#fff'],['dgoR',574,820,'#222'],['psuK/fruA',530,839,'#222'],['dgoR',622,810,'#fff'],['cydA',622,822,'#fff']]});

const legNames=['Tenericutes','Deferribacteres','Verrucomicrobia','Proteobacteria','Firmicutes','Cyanobacteria','Bacteroidetes','Actinobacteria'];
const legCols=['#8b3a0f','#b3c0e8','#4472c4','#ffff1a','#6aab4a','#a6a6a6','#ef7f2f','#000'];
const legX=[50,112,190,273,346,405,479,549];
const LG=mk('g',{});


legNames.forEach((n,i)=>{const r=mk('rect',{x:legX[i],y:988,width:8,height:8,fill:legCols[i],stroke:'#666','stroke-width':0.4},LG);
  
  
  const t=txt(n,legX[i]+10,996,9.5,{},LG);
  
  });
</script>
</body></html>
